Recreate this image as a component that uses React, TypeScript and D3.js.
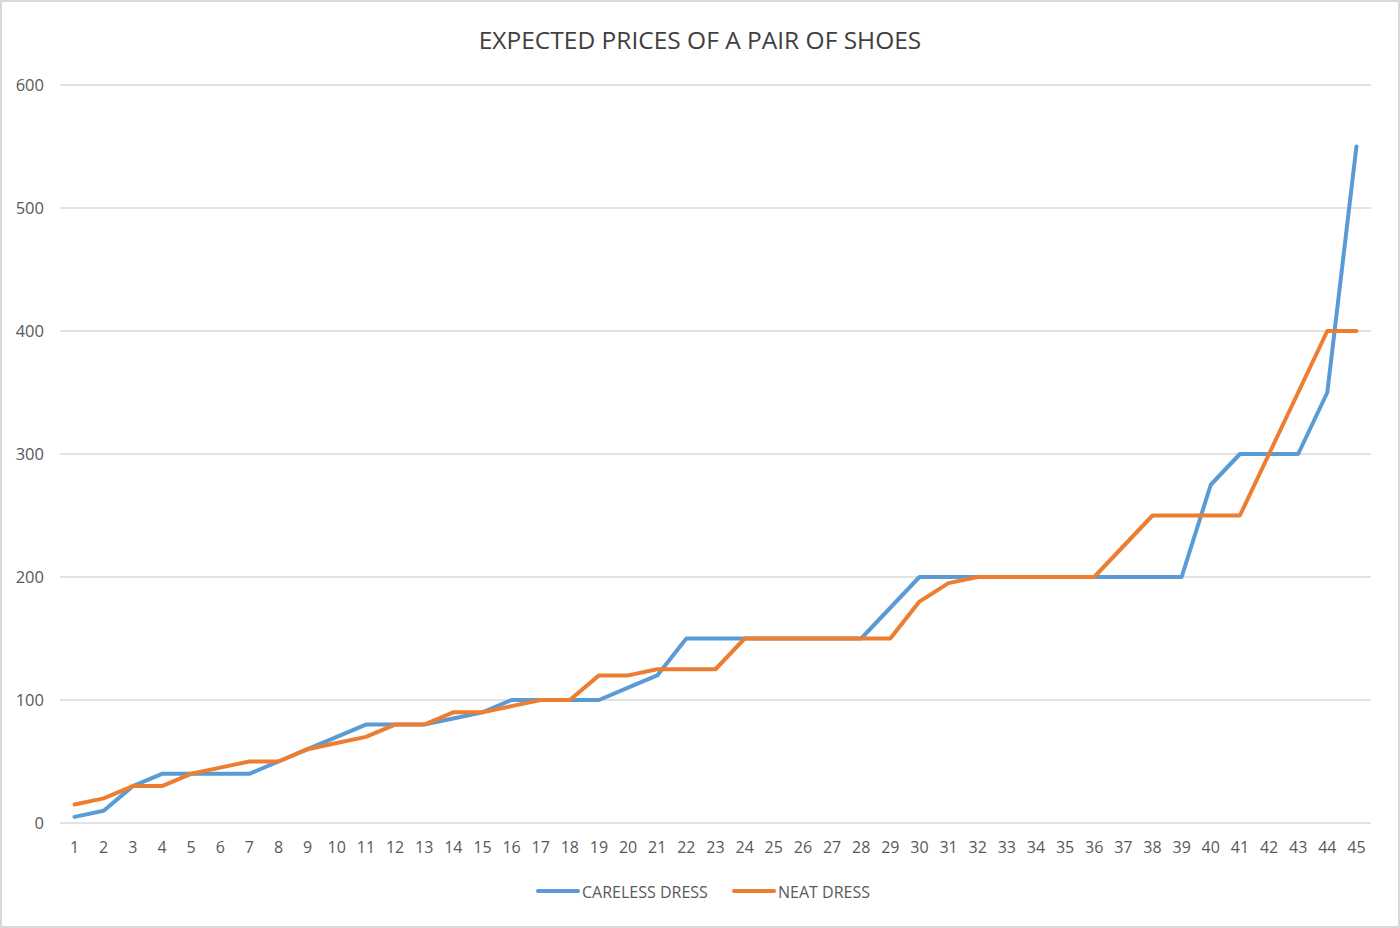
import React from "react";
import * as d3 from "d3";

const categories: number[] = Array.from({ length: 45 }, (_, i) => i + 1);
const carelessDress: number[] = [5, 10, 30, 40, 40, 40, 40, 50, 60, 70, 80, 80, 80, 85, 90, 100, 100, 100, 100, 110, 120, 150, 150, 150, 150, 150, 150, 150, 175, 200, 200, 200, 200, 200, 200, 200, 200, 200, 200, 275, 300, 300, 300, 350, 550];
const neatDress: number[] = [15, 20, 30, 30, 40, 45, 50, 50, 60, 65, 70, 80, 80, 90, 90, 95, 100, 100, 120, 120, 125, 125, 125, 150, 150, 150, 150, 150, 150, 180, 195, 200, 200, 200, 200, 200, 225, 250, 250, 250, 250, 300, 350, 400, 400];
const yTicks: number[] = [0, 100, 200, 300, 400, 500, 600];
const seriesNames: string[] = ["CARELESS DRESS", "NEAT DRESS"];
const title = "EXPECTED PRICES OF A PAIR OF SHOES";

const W = 1400, H = 928;
const FONT = "'Open Sans', 'Liberation Sans', sans-serif";
const COLORS = ["#5B9BD5", "#ED7D31"];

export default function App() {
  const x = d3.scalePoint<number>().domain(categories).range([60, 1371]).padding(0.5);
  const y = d3.scaleLinear().domain([0, 600]).range([823, 85]);
  const line = d3.line<number>().x((_, i) => x(categories[i])!).y((d) => y(d));
  const series = [carelessDress, neatDress];

  return (
    <svg width={W} height={H} style={{ position: "absolute", left: 0, top: 0 }} fontFamily={FONT}>
      <rect x={0} y={0} width={W} height={H} fill="#fff" />
      <rect x={1} y={1} width={W - 2} height={H - 2} fill="none" stroke="#d9d9d9" strokeWidth={2} />
      <text x={700} y={49} textAnchor="middle" fontSize={24.5} fill="#404040">{title}</text>
      {yTicks.map((t) => (
        <g key={t}>
          <line x1={60} x2={1371} y1={y(t)} y2={y(t)} stroke="#d9d9d9" strokeWidth={1.5} />
          <text x={44} y={y(t) + 6} textAnchor="end" fontSize={16.5} fill="#595959">{t}</text>
        </g>
      ))}
      {categories.map((c) => (
        <text key={c} x={x(c)} y={853} textAnchor="middle" fontSize={16} fill="#595959">{c}</text>
      ))}
      {series.map((s, i) => (
        <path key={i} d={line(s) || ""} fill="none" stroke={COLORS[i]} strokeWidth={4} strokeLinejoin="round" strokeLinecap="round" />
      ))}
      {seriesNames.map((n, i) => {
        const lx = i === 0 ? 538 : 734;
        return (
          <g key={n}>
            <line x1={lx} x2={lx + 40} y1={891} y2={891} stroke={COLORS[i]} strokeWidth={4} strokeLinecap="round" />
            <text x={lx + 44} y={898} fontSize={16} fill="#595959">{n}</text>
          </g>
        );
      })}
    </svg>
  );
}
